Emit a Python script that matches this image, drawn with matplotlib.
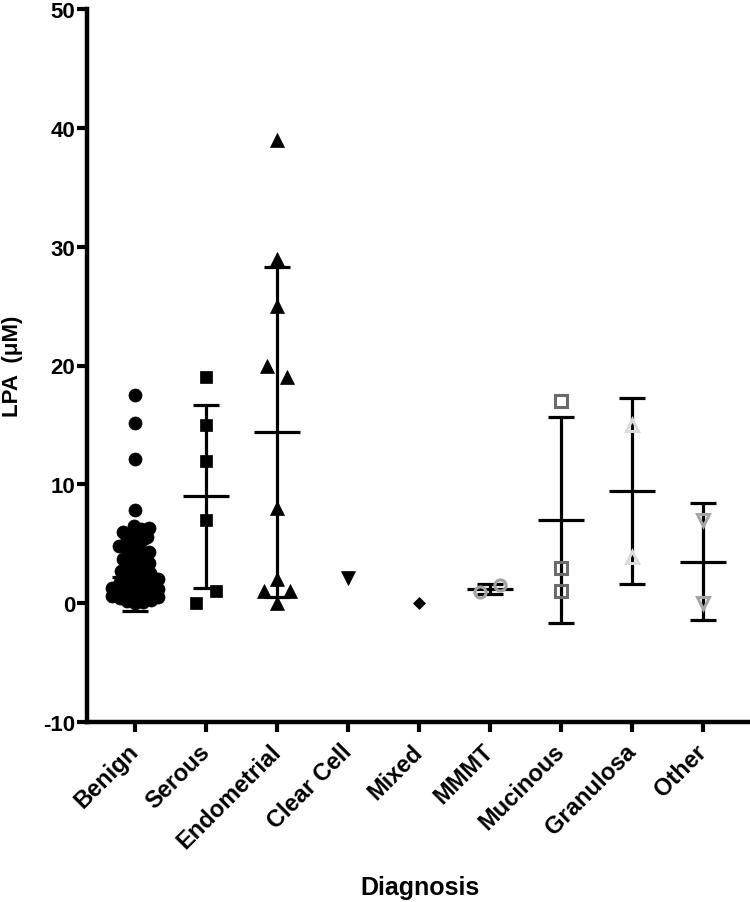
import numpy as np
import matplotlib
matplotlib.use("Agg")
import matplotlib.pyplot as plt

plt.rcParams['font.family'] = ['Liberation Sans', 'DejaVu Sans']
plt.rcParams['font.weight'] = 'bold'
plt.rcParams['axes.unicode_minus'] = False

# groups on the x axis
categories = ['Benign', 'Serous', 'Endometrial', 'Clear Cell', 'Mixed',
              'MMMT', 'Mucinous', 'Granulosa', 'Other']

# LPA values (uM)
benign = [0.0, 0.1, 0.2, 0.3, 0.4, 0.5, 0.6, 0.7, 0.8, 0.9, 1.0, 1.1, 1.2, 1.3,
          1.4, 1.5, 1.6, 1.7, 1.8, 2.0, 2.1, 2.2, 2.4, 2.5, 2.7, 2.8, 3.0, 3.2,
          3.4, 3.5, 3.7, 3.9, 4.1, 4.3, 4.5, 4.6, 4.8, 5.0, 5.2, 5.4, 5.6, 5.8,
          6.0, 6.2, 6.3, 6.5, 7.8, 12.1, 15.2, 17.5]
serous = [19.0, 15.0, 12.0, 7.0, 0.0, 1.0]
endometrial = [39.0, 29.0, 25.0, 20.0, 19.0, 8.0, 2.0, 0.0, 1.0, 1.0]
clear_cell = [2.1]
mixed = [0.0]
mmmt = [0.9, 1.5]
mucinous = [17.0, 3.0, 1.0]
granulosa = [15.0, 3.9]
other = [7.0, 0.0]

# mean and SD lines as drawn (None = no bar)
group_mean = [2.2, 9.0, 14.4, None, None, 1.2, 7.0, 9.45, 3.5]
group_sd = [2.9, 7.7, 13.9, None, None, 0.42, 8.7, 7.8, 4.95]

groups = [benign, serous, endometrial, clear_cell, mixed, mmmt, mucinous, granulosa, other]
markers = ['o', 's', '^', 'v', 'D', 'o', 's', '^', 'v']
face = ['black', 'black', 'black', 'black', 'black', 'none', 'none', 'none', 'none']
edge = ['black', 'black', 'black', 'black', 'black', '#a3a3a3', '#6b6b6b', '#dadada', '#a6a6a6']
msize = [9.4, 9.0, 9.5, 9.5, 6.6, 8.0, 8.0, 9.0, 9.0]
mew = [0.5, 0.5, 0.5, 0.5, 0.5, 2.2, 2.2, 2.2, 2.2]

XPX = 71.0    # pixels per category
YPX = 11.88   # pixels per uM


def swarm(vals, d):
    # simple beeswarm for the big group, d = min centre distance in pixels
    vals = np.asarray(vals, dtype=float)
    order = np.argsort(vals)
    placed = []
    offs = np.zeros(len(vals))
    for i in order:
        y = vals[i] * YPX
        cands = [0.0]
        for px, py in placed:
            dy = y - py
            if abs(dy) < d:
                dx = np.sqrt(d * d - dy * dy)
                cands += [px + dx, px - dx]
        cands.sort(key=abs)
        for c in cands:
            if all((c - px) ** 2 + (y - py) ** 2 >= d * d - 1e-6 for px, py in placed):
                offs[i] = c
                placed.append((c, y))
                break
    return offs / XPX


def spread(vals, thr=13.0):
    # small groups: points closer than thr pixels are set side by side
    vals = np.asarray(vals, dtype=float)
    order = np.argsort(vals, kind='stable')
    offs = np.zeros(len(vals))
    clusters = []
    for i in order:
        if clusters and (vals[i] - vals[clusters[-1][0]]) * YPX < thr:
            clusters[-1].append(i)
        else:
            clusters.append([i])
    for cl in clusters:
        n = len(cl)
        if n == 1:
            continue
        cl = sorted(cl)
        if n % 2 == 0:
            pos = [(k - (n - 1) / 2) * 20 for k in range(n)]
        else:
            pos = [0.0] + [s * 13 * (k // 2 + 1) for k, s in enumerate([-1, 1] * n)][:n - 1]
        for i, p in zip(cl, pos):
            offs[i] = p
    return offs / XPX


fig = plt.figure(figsize=(7.5, 9.03), dpi=100)
ax = fig.add_axes([87 / 750, 180 / 903, 663 / 750, 713 / 903])

for i, vals in enumerate(groups):
    offs = swarm(vals, 8.0) if i == 0 else spread(vals)
    ax.plot(i + offs, vals, linestyle='none', marker=markers[i], ms=msize[i],
            mfc=face[i], mec=edge[i], mew=mew[i], zorder=3)
    if group_mean[i] is not None:
        ax.hlines(group_mean[i], i - 0.32, i + 0.32, color='black', lw=2.3, zorder=2)
        ax.errorbar(i, group_mean[i], yerr=group_sd[i], fmt='none', ecolor='black',
                    elinewidth=2.3, capsize=9.4, capthick=2.3, zorder=2)

ax.set_xlim(-0.676, 8.662)
ax.set_ylim(-10, 50)
ax.set_yticks(range(-10, 51, 10))
ax.set_xticks(range(len(categories)))
ax.set_xticklabels(categories, rotation=45, ha='right', va='center',
                   rotation_mode='anchor', fontsize=17, fontweight='bold')
for lab in ax.get_yticklabels():
    lab.set_fontsize(16)
    lab.set_fontweight('bold')

for s in ['top', 'right']:
    ax.spines[s].set_visible(False)
for s in ['left', 'bottom']:
    ax.spines[s].set_linewidth(3.2)
ax.tick_params(axis='both', length=7.5, width=3.0, color='black')
ax.tick_params(axis='x', pad=11)
ax.tick_params(axis='y', pad=1)

ax.set_ylabel('LPA  (\u03bcM)', fontsize=16, fontweight='bold', va='center')
ax.yaxis.set_label_coords(-0.113, 0.5)
ax.set_xlabel('Diagnosis', fontsize=18, fontweight='bold', va='top')
ax.xaxis.set_label_coords(0.502, -0.214)

fig.savefig('out.png', dpi=100)
